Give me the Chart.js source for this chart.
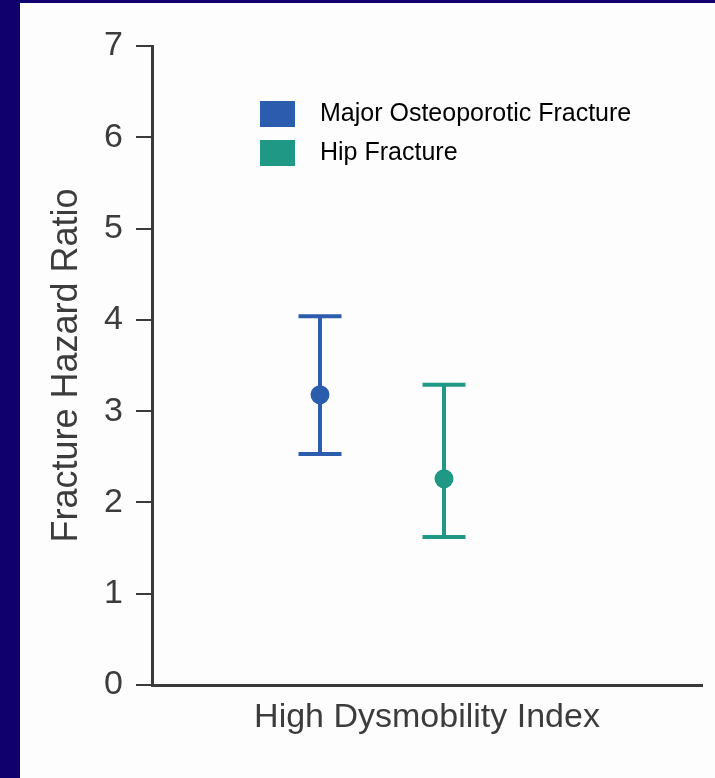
<!DOCTYPE html>
<html>
<head>
<meta charset="utf-8">
<script src="https://cdn.jsdelivr.net/npm/chart.js@4/dist/chart.umd.min.js"></script>
<style>
  html, body { margin: 0; padding: 0; width: 715px; height: 778px; overflow: hidden; background: #10006e; }
  #panel { position: absolute; left: 20px; top: 3px; width: 695px; height: 775px; background: #fdfdfd; }
  canvas { display: block; }
</style>
</head>
<body>
<div id="panel"><canvas id="chart" width="695" height="775"></canvas></div>
<script>
// Hazard ratios with 95% confidence limits
const seriesNames = ['Major Osteoporotic Fracture', 'Hip Fracture'];
const hazardRatio = [3.18, 2.26];
const ciLower = [2.53, 1.62];
const ciUpper = [4.04, 3.29];
const yTickValues = [0, 1, 2, 3, 4, 5, 6, 7];
const groupLabel = 'High Dysmobility Index';
const yAxisLabel = 'Fracture Hazard Ratio';

const seriesColors = ['#2b5cae', '#1f9886'];
const axisColor = '#3a3a3a';
const textColor = '#3c3c3c';

Chart.defaults.font.family = "'Liberation Sans', Arial, Helvetica, sans-serif";

// Solid rectangular swatches for the legend
function makeSwatch(color) {
  const c = document.createElement('canvas');
  c.width = 35;
  c.height = 26;
  const g = c.getContext('2d');
  g.fillStyle = color;
  g.fillRect(0, 0, c.width, c.height);
  return c;
}
const swatches = seriesColors.map(makeSwatch);

// One estimate point plus one capped whisker per series
const datasets = [];
seriesNames.forEach((name, i) => {
  const xPos = i + 1;
  datasets.push({
    type: 'scatter',
    label: name,
    data: [{ x: xPos, y: hazardRatio[i] }],
    backgroundColor: seriesColors[i],
    borderWidth: 0,
    pointRadius: 9.5,
    pointHoverRadius: 9.5,
    order: 0
  });
  datasets.push({
    type: 'line',
    label: name + ' 95% CI',
    data: [{ x: xPos, y: ciLower[i] }, { x: xPos, y: ciUpper[i] }],
    borderColor: seriesColors[i],
    borderWidth: 4,
    fill: false,
    pointStyle: 'line',
    pointRadius: 21.5,
    pointHoverRadius: 21.5,
    pointBorderWidth: 4,
    pointBorderColor: seriesColors[i],
    order: 1
  });
});

// Puts the legend inside the plot, upper middle
const legendPlacement = {
  id: 'legendPlacement',
  afterLayout(chart) {
    const lg = chart.legend;
    const a = chart.chartArea;
    if (!lg) return;
    lg.left = a.left + 81.5;
    lg.top = a.top + 41.5;
    lg.right = a.right;
    lg.bottom = a.bottom;
    lg.width = lg.right - lg.left;
    lg.height = lg.bottom - lg.top;
  }
};

new Chart(document.getElementById('chart'), {
  type: 'scatter',
  data: { datasets },
  plugins: [legendPlacement],
  options: {
    responsive: false,
    animation: false,
    devicePixelRatio: 1,
    layout: { autoPadding: false, padding: { top: 43, right: 13, bottom: 0, left: 0 } },
    plugins: {
      tooltip: { enabled: false },
      legend: {
        display: true,
        position: 'chartArea',
        align: 'start',
        labels: {
          usePointStyle: true,
          pointStyleWidth: 60,
          boxHeight: 25,
          padding: 14,
          color: '#444444',
          font: { size: 25 },
          generateLabels: () => seriesNames.map((n, i) => ({
            text: n,
            pointStyle: swatches[i],
            fillStyle: seriesColors[i],
            strokeStyle: seriesColors[i],
            lineWidth: 0,
            hidden: false,
            datasetIndex: i * 2
          }))
        }
      }
    },
    scales: {
      x: {
        type: 'linear',
        min: -0.3548,
        max: 4.0806,
        ticks: { display: false },
        grid: { display: false },
        border: { display: true, color: axisColor, width: 3 },
        title: {
          display: true,
          text: groupLabel,
          color: textColor,
          font: { size: 34 },
          padding: { top: 0, bottom: 40 }
        },
        afterFit: (s) => { s.height = 93; }
      },
      y: {
        type: 'linear',
        min: yTickValues[0],
        max: yTickValues[yTickValues.length - 1],
        afterBuildTicks: (s) => { s.ticks = yTickValues.map(v => ({ value: v })); },
        ticks: {
          color: textColor,
          font: { size: 34 },
          padding: 13
        },
        grid: {
          display: true,
          drawOnChartArea: false,
          drawTicks: true,
          tickLength: 16,
          lineWidth: 2,
          color: axisColor
        },
        border: { display: true, color: axisColor, width: 3 },
        title: {
          display: true,
          text: yAxisLabel,
          color: textColor,
          font: { size: 36 },
          padding: { top: 25, bottom: 0 }
        },
        afterFit: (s) => { s.width = 132; }
      }
    }
  }
});
</script>
</body>
</html>
